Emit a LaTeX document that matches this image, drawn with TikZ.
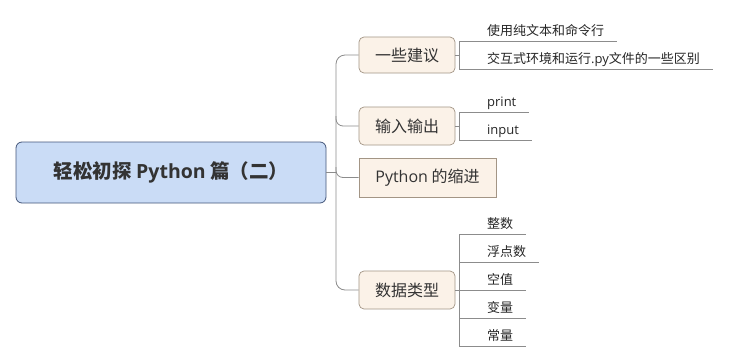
\documentclass[tikz,border=0pt]{standalone}
\usepackage{fontspec}
\setmainfont{Noto Sans CJK SC}
\newfontfamily\lat{Open Sans}
\definecolor{rootfill}{HTML}{CADCF6}
\definecolor{rootdraw}{HTML}{44567A}
\definecolor{kidfill}{HTML}{FBF2E8}
\definecolor{kiddraw}{HTML}{A39585}
\definecolor{linec}{HTML}{8C8C8C}
\definecolor{txt}{HTML}{333333}
\tikzset{
  rootbox/.style={draw=rootdraw, fill=rootfill, rounded corners=6pt, line width=0.8pt, text=txt, font=\fontsize{19.5}{22}\selectfont\bfseries, inner sep=0pt},
  kidbox/.style={draw=kiddraw, fill=kidfill, rounded corners=5pt, line width=0.7pt, text=txt, font=\fontsize{16}{18}\selectfont, inner sep=0pt},
  leaftext/.style={anchor=base west, inner sep=0pt, text=black!85, font=\fontsize{13}{15}\selectfont},
  conn/.style={draw=linec, line width=0.8pt},
}
\begin{document}
\begin{tikzpicture}[x=1pt,y=-1pt]
\useasboundingbox[fill=white] (0,0) rectangle (729,362);
% root
\node[rootbox, minimum width=310pt, minimum height=61pt] (root) at (171,172.5) {轻松初探 {\lat\bfseries Python} 篇（二）};
% children
\node[kidbox, minimum width=96pt, minimum height=36pt] (c1) at (407,55) {一些建议};
\node[kidbox, minimum width=96pt, minimum height=38pt] (c2) at (407,126) {输入输出};
\node[kidbox, rounded corners=0pt, minimum width=137pt, minimum height=39pt] (c3) at (427.5,177.5) {{\lat Python} 的缩进};
\node[kidbox, minimum width=96pt, minimum height=38pt] (c4) at (407,290) {数据类型};
% trunk
\coordinate (tt) at (336,55);
\coordinate (tb) at (336,290);
\coordinate (tr) at (336,172.5);
\draw[conn, rounded corners=9pt] (c1.west) -- (tt) -- (tb) -- (c4.west);
\draw[conn] (root.east) -- (tr);
\draw[conn, rounded corners=7pt] (336,116) -- (336,126) -- (c2.west);
\draw[conn, rounded corners=7pt] (336,167) -- (336,177.5) -- (c3.west);
% child 1 leaves
\coordinate (v1) at (459,55);
\draw[conn] (c1.east) -- (v1);
\draw[conn] (459,41) -- (459,69);
\draw[conn] (459,41) -- (617,41);
\draw[conn] (459,69) -- (713,69);
\node[leaftext] (l11) at (487,35) {使用纯文本和命令行};
\node[leaftext] (l12) at (487,63) {交互式环境和运行{\lat .py}文件的一些区别};
% child 2 leaves
\coordinate (v2) at (459,126);
\draw[conn] (c2.east) -- (v2);
\draw[conn] (459,112) -- (459,140);
\draw[conn] (459,112) -- (529,112);
\draw[conn] (459,140) -- (532,140);
\node[leaftext, font=\lat\fontsize{13}{15}\selectfont] (l21) at (487,106) {print};
\node[leaftext, font=\lat\fontsize{13}{15}\selectfont] (l22) at (487,134) {input};
% child 4 leaves
\coordinate (v4) at (459,290);
\draw[conn] (c4.east) -- (v4);
\draw[conn] (459,234) -- (459,346);
\draw[conn] (459,234) -- (526,234);
\draw[conn] (459,262) -- (539,262);
\draw[conn] (459,290) -- (526,290);
\draw[conn] (459,318) -- (526,318);
\draw[conn] (459,346) -- (526,346);
\node[leaftext] (l41) at (487,228) {整数};
\node[leaftext] (l42) at (487,256) {浮点数};
\node[leaftext] (l43) at (487,284) {空值};
\node[leaftext] (l44) at (487,312) {变量};
\node[leaftext] (l45) at (487,340) {常量};
\end{tikzpicture}
\end{document}
